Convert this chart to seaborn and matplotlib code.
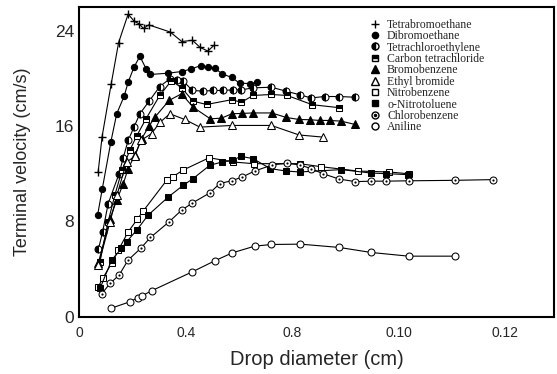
import numpy as np
import pandas as pd
import matplotlib
matplotlib.use("Agg")
import matplotlib.pyplot as plt
from matplotlib.lines import Line2D
from matplotlib.font_manager import FontProperties
import seaborn as sns

sns.set_theme(style="white")
plt.rcParams['font.family'] = ['Liberation Sans', 'DejaVu Sans']

# ---------------- data (drop diameter cm, terminal velocity cm/s) ----------------
tetrabromo_x = [0.070, 0.085, 0.119, 0.147, 0.183, 0.206, 0.223, 0.241, 0.260, 0.341, 0.385, 0.425, 0.454, 0.483, 0.507]
tetrabromo_y = [12.1, 15.1, 19.5, 23.0, 25.4, 24.8, 24.6, 24.2, 24.5, 23.9, 23.1, 23.2, 22.6, 22.3, 22.8]

dibromo_x = [0.068, 0.086, 0.118, 0.140, 0.168, 0.183, 0.205, 0.227, 0.252, 0.265, 0.334, 0.384, 0.421,
             0.456, 0.483, 0.509, 0.535, 0.572, 0.603, 0.642, 0.669]
dibromo_y = [8.5, 10.75, 14.67, 17.03, 18.51, 19.68, 20.94, 21.86, 20.75, 20.33, 20.44, 20.58, 20.80,
             21.08, 20.94, 20.86, 20.41, 20.08, 19.60, 19.57, 19.68]

tetrachloro_x = [0.071, 0.087, 0.108, 0.149, 0.164, 0.183, 0.205, 0.227, 0.262, 0.302, 0.340, 0.365, 0.388,
                 0.425, 0.465, 0.503, 0.540, 0.578, 0.609, 0.653, 0.722, 0.777, 0.828, 0.871, 0.922, 0.978, 1.035]
tetrachloro_y = [5.63, 7.11, 9.49, 12.00, 13.29, 14.79, 15.91, 17.03, 18.09, 19.32, 19.97, 19.88, 19.82,
                 18.99, 18.93, 18.99, 18.99, 19.04, 19.04, 19.21, 19.26, 18.93, 18.63, 18.36, 18.48, 18.48, 18.42]

carbontet_x = [0.077, 0.107, 0.133, 0.160, 0.190, 0.216, 0.250, 0.302, 0.346, 0.384, 0.427, 0.478, 0.572,
               0.609, 0.653, 0.722, 0.781, 0.876, 0.978]
carbontet_y = [4.6, 7.9, 10.2, 12.3, 14.0, 15.2, 16.6, 18.57, 19.82, 19.21, 18.09, 17.81, 18.21,
               18.00, 18.57, 18.65, 18.57, 17.79, 17.54]

bromobenz_x = [0.071, 0.115, 0.140, 0.165, 0.183, 0.208, 0.234, 0.261, 0.284, 0.337, 0.384, 0.427, 0.492,
               0.534, 0.573, 0.610, 0.653, 0.723, 0.778, 0.826, 0.866, 0.903, 0.941, 0.985, 1.035]
bromobenz_y = [4.51, 8.23, 9.77, 11.17, 12.42, 13.54, 14.94, 15.97, 16.75, 18.15, 18.71, 17.59, 16.61,
               16.66, 17.03, 17.06, 17.10, 17.10, 16.72, 16.55, 16.53, 16.47, 16.47, 16.41, 16.14]

ethylbrom_x = [0.071, 0.115, 0.141, 0.177, 0.208, 0.231, 0.271, 0.302, 0.340, 0.396, 0.453, 0.575, 0.722, 0.826, 0.916]
ethylbrom_y = [4.32, 7.95, 10.2, 12.98, 13.45, 14.8, 15.36, 16.3, 17.03, 16.55, 15.91, 16.05, 16.05, 15.25, 15.07]

nitrobenz_x = [0.071, 0.087, 0.121, 0.146, 0.183, 0.217, 0.240, 0.330, 0.350, 0.388, 0.488, 0.578, 0.655,
               0.828, 0.910, 1.047, 1.166, 1.238]
nitrobenz_y = [2.50, 3.20, 4.46, 5.57, 7.11, 8.15, 8.87, 11.50, 11.72, 12.28, 13.34, 12.98, 12.84,
               12.84, 12.58, 12.22, 12.14, 11.99]

nitrotol_x = [0.078, 0.121, 0.158, 0.177, 0.215, 0.258, 0.334, 0.390, 0.427, 0.490, 0.536, 0.572, 0.609,
              0.653, 0.718, 0.778, 0.828, 0.985, 1.097, 1.154, 1.235]
nitrotol_y = [2.40, 4.74, 5.72, 6.27, 7.25, 8.51, 10.04, 11.02, 11.58, 12.70, 12.98, 13.12, 13.45,
              13.26, 12.42, 12.22, 12.14, 12.34, 12.05, 12.00, 11.92]

chlorobenz_x = [0.083, 0.115, 0.149, 0.183, 0.230, 0.267, 0.337, 0.384, 0.425, 0.490, 0.528, 0.575, 0.613,
                0.659, 0.726, 0.779, 0.828, 0.872, 0.915, 0.978, 1.038, 1.097, 1.154, 1.238, 1.413, 1.557]
chlorobenz_y = [1.89, 2.78, 3.48, 4.74, 5.72, 6.64, 7.95, 8.93, 9.54, 10.38, 11.17, 11.42, 11.73,
                12.22, 12.74, 12.87, 12.74, 12.42, 12.00, 11.54, 11.33, 11.37, 11.37, 11.40, 11.44, 11.50]

aniline_x = [0.118, 0.190, 0.219, 0.234, 0.271, 0.425, 0.509, 0.575, 0.659, 0.722, 0.831, 0.978, 1.097, 1.238, 1.413]
aniline_y = [0.69, 1.24, 1.58, 1.72, 2.16, 3.76, 4.68, 5.35, 5.91, 6.05, 6.08, 5.80, 5.38, 5.07, 5.07]

series_names = ["Tetrabromoethane", "Dibromoethane", "Tetrachloroethylene", "Carbon tetrachloride",
                "Bromobenzene", "Ethyl bromide", "Nitrobenzene", "o-Nitrotoluene", "Chlorobenzene", "Aniline"]

x_tick_values = [0, 0.4, 0.8, 1.2, 1.6]
x_tick_labels = ["0", "0.4", "0.8", "0.10", "0.12"]
y_tick_values = [0, 8, 16, 24]
y_tick_labels = ["0", "8", "16", "24"]

# ---------------- styles ----------------
K = "black"
styles = {
    "Tetrabromoethane": dict(marker="+", markersize=6, markeredgewidth=1.0, markerfacecolor=K),
    "Dibromoethane": dict(marker="o", markersize=4.5, markerfacecolor=K),
    "Tetrachloroethylene": dict(marker="o", markersize=5, fillstyle="left", markerfacecolor=K,
                                markerfacecoloralt="white"),
    "Carbon tetrachloride": dict(marker="s", markersize=5, fillstyle="top", markerfacecolor=K,
                                 markerfacecoloralt="white"),
    "Bromobenzene": dict(marker="^", markersize=5.5, markerfacecolor=K),
    "Ethyl bromide": dict(marker="^", markersize=5.5, markerfacecolor="white"),
    "Nitrobenzene": dict(marker="s", markersize=5, markerfacecolor="white"),
    "o-Nitrotoluene": dict(marker="s", markersize=5, markerfacecolor=K),
    "Chlorobenzene": dict(marker="o", markersize=5, markerfacecolor="white"),
    "Aniline": dict(marker="o", markersize=5, markerfacecolor="white"),
}

data = {
    "Tetrabromoethane": (tetrabromo_x, tetrabromo_y),
    "Dibromoethane": (dibromo_x, dibromo_y),
    "Tetrachloroethylene": (tetrachloro_x, tetrachloro_y),
    "Carbon tetrachloride": (carbontet_x, carbontet_y),
    "Bromobenzene": (bromobenz_x, bromobenz_y),
    "Ethyl bromide": (ethylbrom_x, ethylbrom_y),
    "Nitrobenzene": (nitrobenz_x, nitrobenz_y),
    "o-Nitrotoluene": (nitrotol_x, nitrotol_y),
    "Chlorobenzene": (chlorobenz_x, chlorobenz_y),
    "Aniline": (aniline_x, aniline_y),
}

fig = plt.figure(figsize=(5.57, 3.74), dpi=100)
ax = fig.add_axes([0.1427, 0.1537, 0.8519, 0.8276])

for name in series_names:
    xs, ys = data[name]
    df = pd.DataFrame({"x": xs, "y": ys})
    sns.lineplot(data=df, x="x", y="y", ax=ax, color=K, lw=0.8, sort=False, estimator=None,
                 markeredgecolor=K, **styles[name])

# dots inside chlorobenzene circles
sns.scatterplot(x=chlorobenz_x, y=chlorobenz_y, ax=ax, color=K, s=2.5, linewidth=0, zorder=5)

ax.set_xlim(0, 1.785)
ax.set_ylim(0, 26)
ax.set_xticks(x_tick_values)
ax.set_xticklabels(x_tick_labels, fontsize=10)
ax.set_xticks([0.2, 0.6, 1.0, 1.4], minor=True)
ax.set_yticks(y_tick_values)
ax.set_yticklabels(y_tick_labels, fontsize=12.5)
ax.set_yticks([4, 12, 20], minor=True)
ax.tick_params(axis="x", which="both", direction="in", color=K, width=1.0, length=5, pad=7)
ax.tick_params(axis="y", which="major", direction="inout", color=K, width=1.0, length=6, pad=1)
ax.tick_params(axis="y", which="minor", direction="in", color=K, width=1.0, length=5)

for sp in ax.spines.values():
    sp.set_visible(True)
    sp.set_color(K)
    sp.set_linewidth(1.5)

ax.set_xlabel("Drop diameter (cm)", fontsize=14.5, labelpad=7)
ax.set_ylabel("Terminal velocity (cm/s)", fontsize=13, labelpad=17)

# legend (markers only, serif text)
handles = []
for name in series_names:
    st = dict(styles[name])
    h = Line2D([], [], color=K, linestyle="none", markeredgecolor=K, **st)
    if name == "Chlorobenzene":
        dot = Line2D([], [], color=K, linestyle="none", marker="o", markersize=1.5)
        h = (h, dot)
    handles.append(h)

leg = ax.legend(handles, series_names, loc="upper left", bbox_to_anchor=(0.6096, 0.962),
                frameon=False, prop=FontProperties(family="Liberation Serif", size=8.5),
                handlelength=1.1, handletextpad=0.45, labelspacing=-0.05, borderpad=0,
                borderaxespad=0)

fig.savefig("out.png", dpi=100)
